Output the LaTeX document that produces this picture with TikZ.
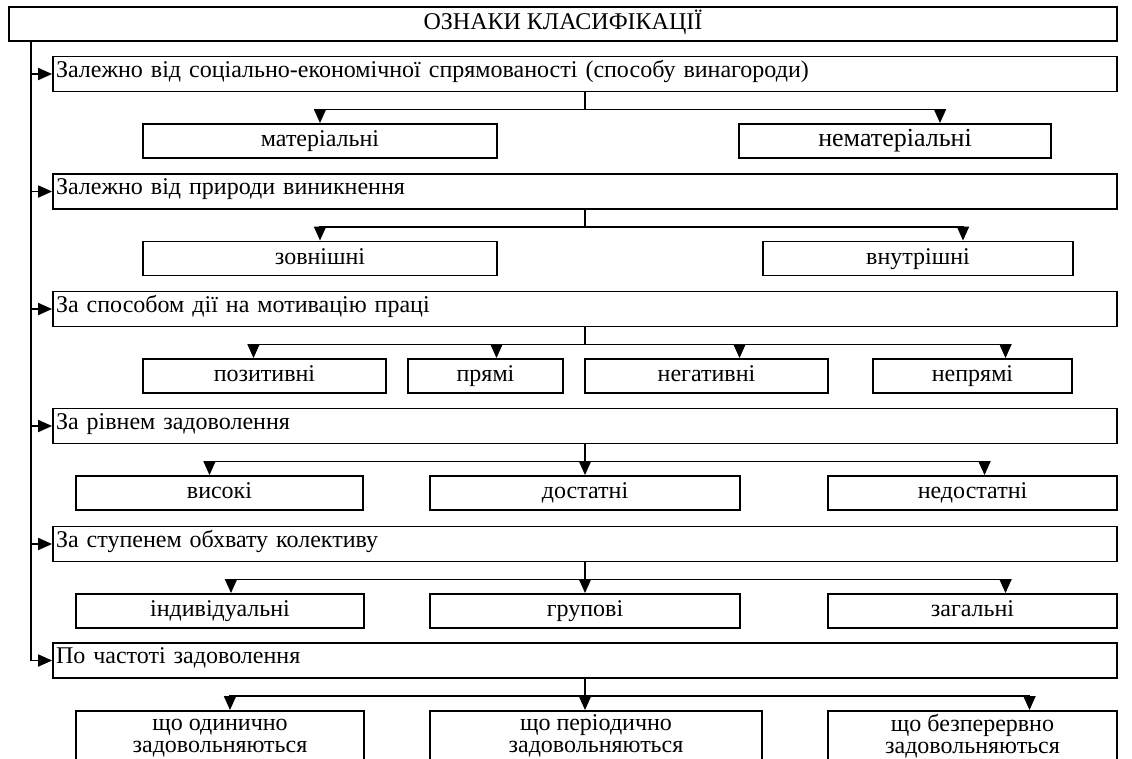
\documentclass[tikz,border=0pt]{standalone}
\usepackage{fontspec}
\setmainfont{Liberation Serif}
\usetikzlibrary{arrows.meta}

\begin{document}
\begin{tikzpicture}[x=1pt, y=-1pt,
					box/.style = {draw, line width=1.8pt, inner sep=2pt, font=\fontsize{24}{22}\selectfont},
					cat/.style = {box, minimum width=1064pt, minimum height=35pt, text width=1058pt, align=left, text height=16pt, text depth=10pt},
					leaf/.style = {box, minimum height=34pt, text height=16pt, text depth=5pt},
					pair/.style = {box, minimum height=52pt, align=center},
					link/.style = {line width=1.8pt},
					arr/.style = {link, -{Triangle[length=14pt, width=12pt]}},]
					\clip (0,0) rectangle (1132,758);
					\fill[white] (0,0) rectangle (1132,758);

					\node[box, minimum width=1108pt, minimum height=34pt, text height=16pt, text depth=6pt] (root) at (563,24) {ОЗНАКИ КЛАСИФІКАЦІЇ};
					\coordinate (trunk) at ([xshift=23pt]root.south west);

					\node[cat] (c1) at (585,74) {Залежно від соціально-економічної спрямованості (способу винагороди)};
					\node[leaf, minimum width=354pt] (m1) at (320,141) {матеріальні};
					\node[leaf, minimum width=312pt, font=\fontsize{26}{24}\selectfont] (m2) at (895,141) {нематеріальні};

					\node[cat] (c2) at (585,191.5) {Залежно від природи виникнення};
					\node[leaf, minimum width=354pt] (m3) at (320,258.5) {зовнішні};
					\node[leaf, minimum width=310pt] (m4) at (918,258.5) {внутрішні};

					\node[cat] (c3) at (585,309) {За способом дії на мотивацію праці};
					\node[leaf, minimum width=243pt] (m5) at (264.5,376) {позитивні};
					\node[leaf, minimum width=155pt] (m6) at (485.5,376) {прямі};
					\node[leaf, minimum width=243pt] (m7) at (706.5,376) {негативні};
					\node[leaf, minimum width=199pt] (m8) at (972.5,376) {непрямі};

					\node[cat] (c4) at (585,426) {За рівнем задоволення};
					\node[leaf, minimum width=287pt] (m9) at (219.5,493) {високі};
					\node[leaf, minimum width=310pt] (m10) at (585,493) {достатні};
					\node[leaf, minimum width=289pt] (m11) at (972.5,493) {недостатні};

					\node[cat] (c5) at (585,544) {За ступенем обхвату колективу};
					\node[leaf, minimum width=288pt] (m12) at (220,611) {індивідуальні};
					\node[leaf, minimum width=310pt] (m13) at (585,611) {групові};
					\node[leaf, minimum width=289pt] (m14) at (972.5,611) {загальні};

					\node[cat] (c6) at (585,660.5) {По частоті задоволення};
					\node[pair, minimum width=288pt] (m15) at (220,737) {\strut що одинично\\задовольняються\strut};
					\node[pair, minimum width=332pt] (m16) at (596,737) {\strut що періодично\\задовольняються\strut};
					\node[pair, minimum width=289pt] (m17) at (972.5,737) {\strut що безперервно\\задовольняються\strut};

					\draw[arr] (trunk) |- (c6.west);
					\draw[arr] (trunk |- c1.west) -- (c1.west);
					\draw[arr] (trunk |- c2.west) -- (c2.west);
					\draw[arr] (trunk |- c3.west) -- (c3.west);
					\draw[arr] (trunk |- c4.west) -- (c4.west);
					\draw[arr] (trunk |- c5.west) -- (c5.west);

					\draw[arr] (c1.south) -- ++(0,17) -| (m1.north);
					\draw[arr] (c1.south) -- ++(0,17) -| ([xshift=45pt]m2.north);

					\draw[arr] (c2.south) -- ++(0,17) -| (m3.north);
					\draw[arr] (c2.south) -- ++(0,17) -| ([xshift=45pt]m4.north);

					\draw[arr] (c3.south) -- ++(0,17) -| ([xshift=-11pt]m5.north);
					\draw[arr] (c3.south) -- ++(0,17) -| ([xshift=11pt]m6.north);
					\draw[arr] (c3.south) -- ++(0,17) -| ([xshift=33pt]m7.north);
					\draw[arr] (c3.south) -- ++(0,17) -| ([xshift=33pt]m8.north);

					\draw[arr] (c4.south) -- ++(0,17) -| ([xshift=-10pt]m9.north);
					\draw[arr] (c4.south) -- (m10.north);
					\draw[arr] (c4.south) -- ++(0,17) -| ([xshift=12pt]m11.north);

					\draw[arr] (c5.south) -- ++(0,17) -| ([xshift=11pt]m12.north);
					\draw[arr] (c5.south) -- (m13.north);
					\draw[arr] (c5.south) -- ++(0,17) -| ([xshift=33pt]m14.north);

					\draw[arr] (c6.south) -- ++(0,17) -| ([xshift=10pt]m15.north);
					\draw[arr] (c6.south) -- ++(0,17) -| ([xshift=-11pt]m16.north);
					\draw[arr] (c6.south) -- ++(0,17) -| ([xshift=57pt]m17.north);
				\end{tikzpicture}
\end{document}
